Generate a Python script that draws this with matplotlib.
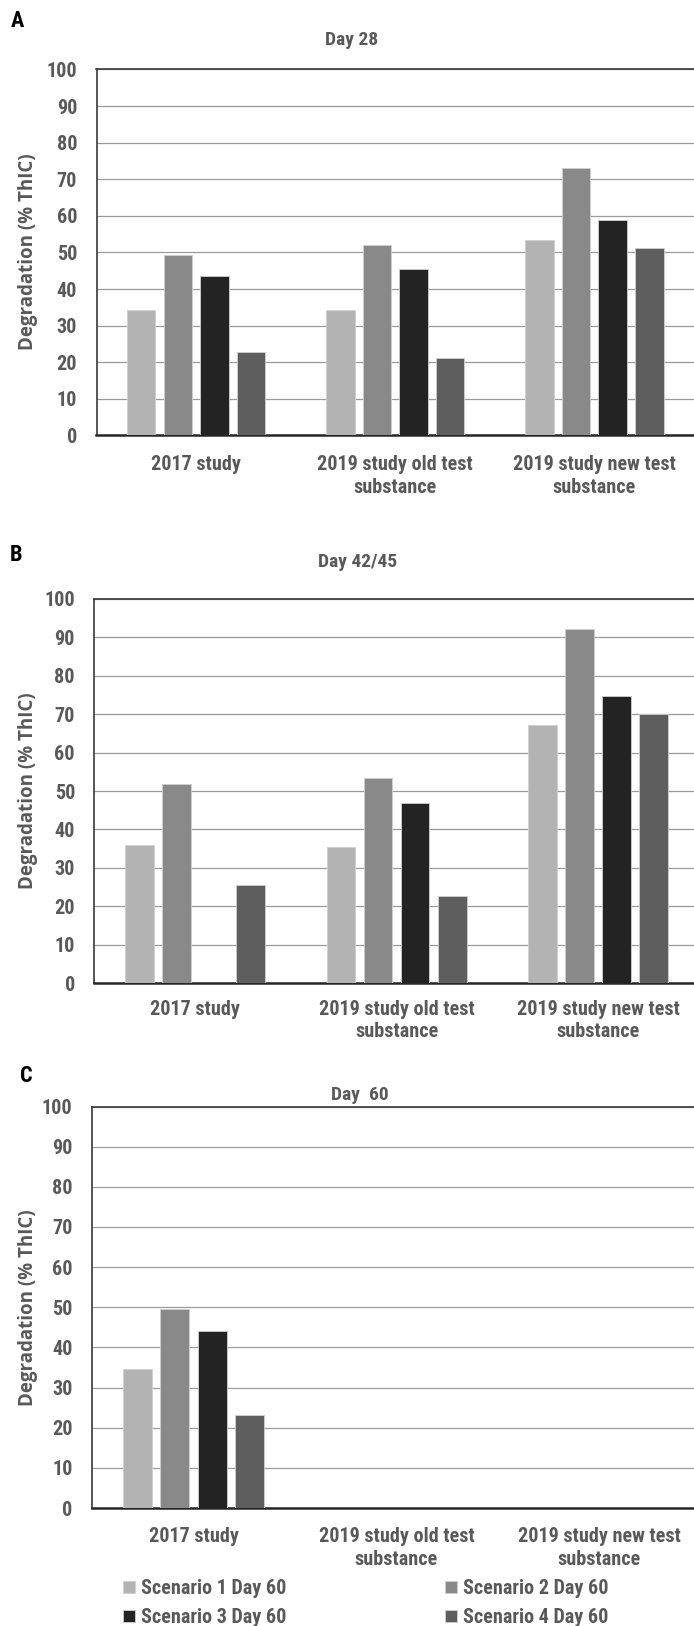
import numpy as np
import matplotlib
matplotlib.use("Agg")
import matplotlib.pyplot as plt
from matplotlib import font_manager

nan = np.nan

categories = ["2017 study", "2019 study old test\nsubstance", "2019 study new test\nsubstance"]
series_names = ["Scenario 1 Day 60", "Scenario 2 Day 60", "Scenario 3 Day 60", "Scenario 4 Day 60"]
colors = ["#b3b3b3", "#898989", "#232323", "#5e5e5e"]

# Day 28
s1_d28 = [34.2, 34.2, 53.4]
s2_d28 = [49.3, 52.0, 73.2]
s3_d28 = [43.6, 45.4, 58.9]
s4_d28 = [22.8, 21.2, 51.1]

# Day 42/45
s1_d42 = [36.0, 35.3, 67.2]
s2_d42 = [51.8, 53.5, 92.2]
s3_d42 = [nan, 46.8, 74.8]
s4_d42 = [25.6, 22.7, 70.1]

# Day 60
s1_d60 = [34.5, nan, nan]
s2_d60 = [49.5, nan, nan]
s3_d60 = [44.0, nan, nan]
s4_d60 = [23.2, nan, nan]

# pick a narrow-ish family that really has a bold face
bold_fams = {f.name for f in font_manager.fontManager.ttflist
             if isinstance(f.weight, int) and f.weight >= 600 or f.weight in ("bold", "heavy", "black", "semibold", "demibold")}
font = "DejaVu Sans"
for cand in ["Liberation Sans Narrow", "Roboto Condensed", "Lato", "Roboto", "Liberation Sans"]:
    if cand in bold_fams:
        font = cand
        break

plt.rcParams['font.family'] = [font, 'DejaVu Sans']
plt.rcParams['font.weight'] = 'bold'

W, H = 694, 1626
TXT = "#595959"
FS = 14.5 if font in ("Lato", "Liberation Sans Narrow", "Roboto Condensed") else 12.5

fig = plt.figure(figsize=(W / 100, H / 100), dpi=100)


def px_axes(l, t, r, b):
    return fig.add_axes([l / W, 1 - b / H, (r - l) / W, (b - t) / H])


def panel(ax, series, xpad):
    x = np.arange(len(categories))
    pitch, width = 0.184, 0.143
    bars = []
    for j, vals in enumerate(series):
        b = ax.bar(x + (j - 1.5) * pitch, vals, width, color=colors[j],
                   edgecolor="#d0d0d0", linewidth=0.6, zorder=3)
        bars.append(b)
    ax.set_xlim(-0.5, 2.5)
    ax.set_ylim(0, 100)
    ax.set_yticks(range(0, 101, 10))
    ax.set_xticks(x)
    ax.set_xticklabels(categories, linespacing=1.25)
    ax.yaxis.grid(True, color="#9b9b9b", linewidth=0.9, zorder=0)
    ax.set_axisbelow(True)
    ax.tick_params(axis="y", length=0, pad=14, labelsize=FS, labelcolor=TXT)
    ax.tick_params(axis="x", length=0, pad=xpad, labelsize=FS, labelcolor=TXT)
    ax.spines["right"].set_visible(False)
    for s in ["top", "left"]:
        ax.spines[s].set_color("#3a3a3a")
        ax.spines[s].set_linewidth(1.2)
    ax.spines["bottom"].set_color("#262626")
    ax.spines["bottom"].set_linewidth(1.8)
    return bars


axA = px_axes(96.5, 69.5, 694, 435.5)
panel(axA, [s1_d28, s2_d28, s3_d28, s4_d28], 14)
axB = px_axes(94.4, 599, 698.7, 983)
panel(axB, [s1_d42, s2_d42, s3_d42, s4_d42], 12)
axC = px_axes(92, 1106.5, 701, 1508)
barsC = panel(axC, [s1_d60, s2_d60, s3_d60, s4_d60], 14)

# panel letters and titles
for letter, (lx, ly) in zip("ABC", [(17, 21), (16, 555), (26, 1076)]):
    fig.text(lx / W, 1 - ly / H, letter, fontsize=16, color="black",
             ha="center", va="center")
for title, (tx, ty) in zip(["Day 28", "Day 42/45", "Day  60"],
                           [(352, 40), (358, 562), (360, 1095)]):
    fig.text(tx / W, 1 - ty / H, title, fontsize=14, color=TXT,
             ha="center", va="center")

for yc in [252, 791, 1308]:
    fig.text(28 / W, 1 - yc / H, "Degradation (% ThIC)", rotation=90,
             fontsize=13.5, color=TXT, ha="center", va="center",
             family=["Open Sans", "DejaVu Sans"])

order = [0, 2, 1, 3]
fig.legend([barsC[i] for i in order], [series_names[i] for i in order],
           ncol=2, loc="upper left", bbox_to_anchor=(123 / W, 1 - 1579 / H),
           frameon=False, fontsize=FS, labelcolor=TXT, borderpad=0,
           handlelength=0.6, handleheight=0.6, handletextpad=0.3,
           columnspacing=7.85, labelspacing=0.5, borderaxespad=0)

fig.savefig("out.png", dpi=100)
